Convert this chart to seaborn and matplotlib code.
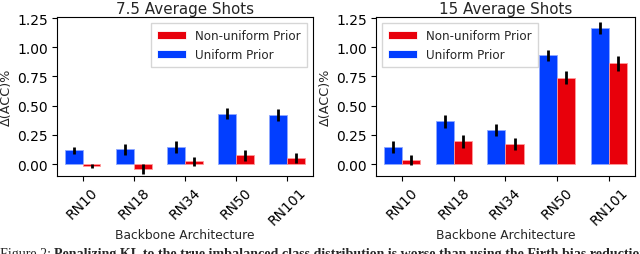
import matplotlib
matplotlib.use("Agg")
import matplotlib.pyplot as plt
import seaborn as sns
import pandas as pd
import numpy as np

backbones = ["RN10", "RN18", "RN34", "RN50", "RN101"]
priors = ["Uniform Prior", "Non-uniform Prior"]

# 7.5 average shots
uni_75 = [0.116, 0.127, 0.145, 0.431, 0.419]
uni_75_err = [0.032, 0.048, 0.048, 0.048, 0.052]
non_75 = [-0.014, -0.043, 0.023, 0.075, 0.052]
non_75_err = [0.017, 0.042, 0.038, 0.048, 0.046]

# 15 average shots
uni_15 = [0.145, 0.367, 0.289, 0.931, 1.166]
uni_15_err = [0.052, 0.056, 0.053, 0.049, 0.053]
non_15 = [0.035, 0.194, 0.171, 0.741, 0.862]
non_15_err = [0.039, 0.054, 0.054, 0.059, 0.066]

titles = ["7.5 Average Shots", "15 Average Shots"]
colors = {"Uniform Prior": "#023eff", "Non-uniform Prior": "#e8000b"}

sns.set_style("ticks")
plt.rcParams["font.family"] = ["DejaVu Sans"]

fig = plt.figure(figsize=(6.4, 2.55), dpi=100)
ax1 = fig.add_axes([0.089, 0.307, 0.400, 0.621])
ax2 = fig.add_axes([0.5875, 0.307, 0.4045, 0.621])

panels = [
    (ax1, uni_75, uni_75_err, non_75, non_75_err, "upper right"),
    (ax2, uni_15, uni_15_err, non_15, non_15_err, "upper left"),
]

for i, (ax, u, ue, n, ne, loc) in enumerate(panels):
    df = pd.DataFrame({
        "Backbone": backbones * 2,
        "Prior": [priors[0]] * 5 + [priors[1]] * 5,
        "val": u + n,
        "err": ue + ne,
    })
    sns.barplot(data=df, x="Backbone", y="val", hue="Prior", order=backbones,
                hue_order=priors, palette=colors, errorbar=None, width=0.7,
                ax=ax, saturation=1.0, linewidth=0.6)
    for bar_container, pr in zip(ax.containers, priors):
        ec = "#8fa8ff" if pr == "Uniform Prior" else "#ff9a9a"
        for p in bar_container.patches:
            p.set_edgecolor(ec)
    for bar_container, pr in zip(ax.containers, priors):
        sub = df[df["Prior"] == pr]
        xs = [p.get_x() + p.get_width() / 2 for p in bar_container.patches]
        ax.errorbar(xs, sub["val"].values, yerr=sub["err"].values, fmt="none",
                    ecolor="black", elinewidth=2.0, capsize=0, zorder=5)
    ax.set_ylim(-0.1, 1.256)
    ax.set_xlim(-0.5, 4.5)
    ax.set_yticks([0.0, 0.25, 0.5, 0.75, 1.0, 1.25])
    ax.set_yticklabels(["0.00", "0.25", "0.50", "0.75", "1.00", "1.25"])
    ax.tick_params(axis="both", labelsize=10, length=3.5, width=0.8, colors="black", pad=3)
    plt.setp(ax.get_xticklabels(), rotation=45, ha="center")
    ax.set_title(titles[i], fontsize=10.9, pad=3)
    ax.set_xlabel("Backbone Architecture", fontsize=8.8, labelpad=0.5)
    ax.set_ylabel("Δ(ACC)%", fontsize=9.2, labelpad=3)
    for s in ax.spines.values():
        s.set_visible(True)
        s.set_color("black")
        s.set_linewidth(0.8)
    handles, labels = ax.get_legend_handles_labels()
    order = [labels.index("Non-uniform Prior"), labels.index("Uniform Prior")]
    ax.legend([handles[j] for j in order], [labels[j] for j in order], loc=loc,
              fontsize=8.6, frameon=True, fancybox=False, edgecolor="#cccccc",
              handlelength=2.4, borderpad=0.5, labelspacing=0.5)

# caption (partially visible at the bottom edge, as in the source image)
fig.canvas.draw()
r = fig.canvas.get_renderer()
t1 = fig.text(0.0, -0.012, "Figure 2: ", fontsize=10.1, family="Liberation Serif",
              va="baseline", ha="left")
bb = t1.get_window_extent(renderer=r)
x2 = bb.x1 / fig.bbox.width
fig.text(x2, -0.012,
         "Penalizing KL to the true imbalanced class distribution is worse than using the Firth bias reduction",
         fontsize=10.1, family="Liberation Serif", weight="bold", va="baseline", ha="left")

fig.savefig("out.png", dpi=100)
